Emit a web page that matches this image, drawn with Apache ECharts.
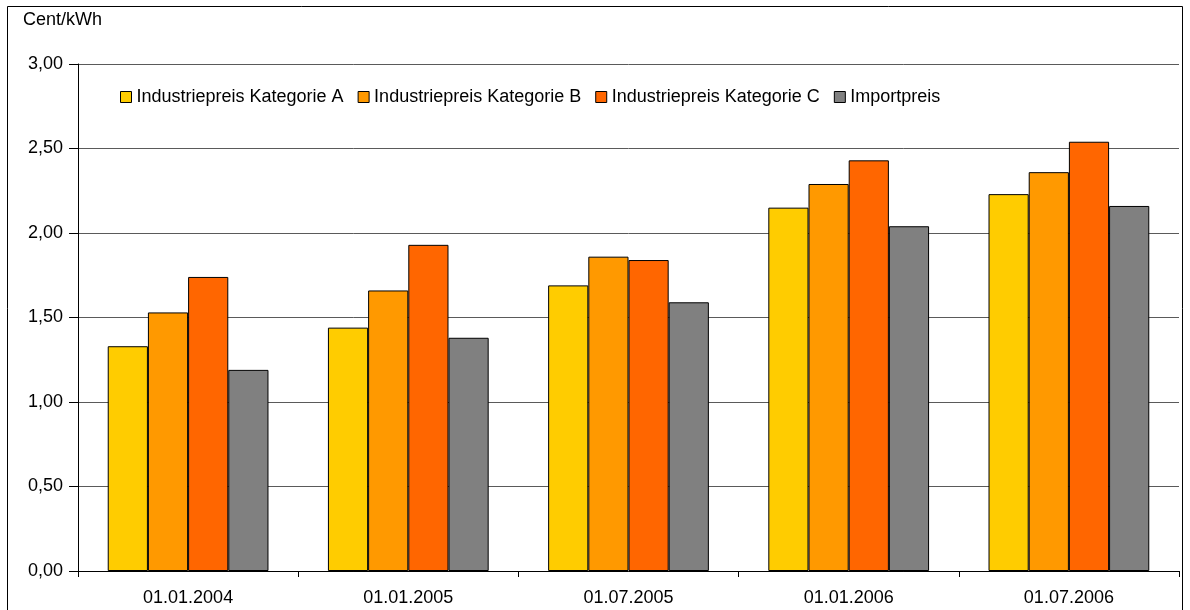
<!DOCTYPE html>
<html><head><meta charset="utf-8">
<script src="https://cdn.jsdelivr.net/npm/echarts@6/dist/echarts.min.js"></script>
<style>html,body{margin:0;padding:0;background:#fff}#c{width:1190px;height:610px}</style>
</head><body><div id="c"></div>
<script>
const categories = ['01.01.2004','01.01.2005','01.07.2005','01.01.2006','01.07.2006'];
const seriesNames = ['Industriepreis Kategorie A','Industriepreis Kategorie B','Industriepreis Kategorie C','Importpreis'];
const katA = [1.33, 1.44, 1.69, 2.15, 2.23];
const katB = [1.53, 1.66, 1.86, 2.29, 2.36];
const katC = [1.74, 1.93, 1.84, 2.43, 2.54];
const importpreis = [1.19, 1.38, 1.59, 2.04, 2.16];
const colors = ['#FFCC00','#FF9900','#FF6600','#808080'];
const yUnit = 'Cent/kWh';

const font = 'Liberation Sans, Arial, sans-serif';
const chart = echarts.init(document.getElementById('c'), null, {renderer:'canvas'});
const dataSets = [katA, katB, katC, importpreis];
chart.setOption({
  animation:false,
  backgroundColor:'#fff',
  textStyle:{fontFamily:font},
  graphic:[
    {type:'rect', shape:{x:7.5,y:6.5,width:1175,height:620}, style:{fill:'none', stroke:'#000', lineWidth:1}, z:-1},
    {type:'text', left:23, top:11, style:{text:yUnit, font:'18px '+font, fill:'#000'}}
  ],
  legend:{
    left:115, top:83, itemWidth:11, itemHeight:11, itemGap:14,
    textStyle:{fontSize:18, color:'#000', fontFamily:font},
    data:seriesNames.map((n,i)=>({name:n, icon:'rect', itemStyle:{color:colors[i], borderColor:'#000', borderWidth:1}}))
  },
  grid:{left:78, right:11, top:64, bottom:39, containLabel:false},
  xAxis:{
    type:'category', data:categories,
    axisLine:{lineStyle:{color:'#000', width:1}},
    axisTick:{show:true, length:6, lineStyle:{color:'#000'}},
    axisLabel:{color:'#000', fontSize:18, fontFamily:font, margin:18}
  },
  yAxis:{
    type:'value', min:0, max:3, interval:0.5,
    axisLine:{show:true, lineStyle:{color:'#000', width:1}},
    axisTick:{show:true, length:9, lineStyle:{color:'#000'}},
    axisLabel:{color:'#000', fontSize:18, fontFamily:font, margin:15,
      formatter:v=>v.toFixed(2).replace('.',',')},
    splitLine:{show:true, lineStyle:{color:'#5a5a5a', width:1}}
  },
  series:seriesNames.map((n,i)=>({
    name:n, type:'bar', data:dataSets[i],
    barGap:'0%', barCategoryGap:'27%',
    itemStyle:{color:colors[i], borderColor:'#000', borderWidth:1}
  }))
});
</script></body></html>
